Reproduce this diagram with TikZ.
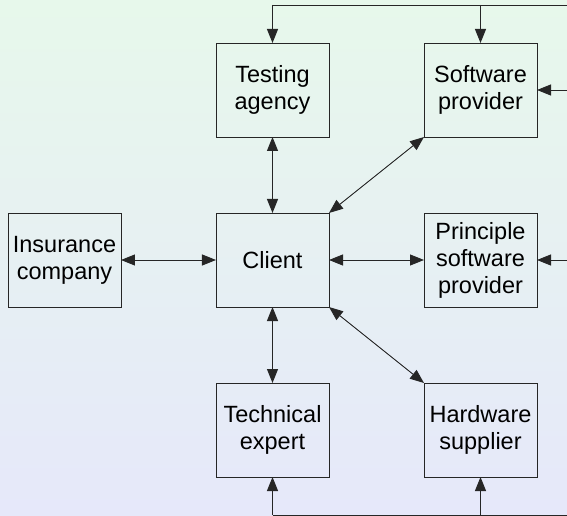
\documentclass[tikz,border=0pt]{standalone}
\usepackage{fontspec}
\setmainfont{Liberation Sans}
\usetikzlibrary{arrows.meta,positioning,calc}

\definecolor{bgtop}{RGB}{231,248,235}
\definecolor{bgbottom}{RGB}{230,232,250}

\begin{document}
\begin{tikzpicture}[x=1pt, y=1pt,
  party/.style={rectangle, draw=black!85, line width=0.9pt, minimum width=113pt, minimum height=94pt, inner sep=0pt, outer sep=0pt, align=center, font=\fontsize{23.5}{27}\selectfont},
  link/.style={draw=black!85, line width=0.9pt, {Triangle[length=14pt,width=11pt]}-{Triangle[length=14pt,width=11pt]}},
  feed/.style={draw=black!85, line width=0.9pt, -{Triangle[length=14pt,width=11pt]}},
  node distance=76pt and 95pt]

  % background
  \shade[top color=bgtop, bottom color=bgbottom] (-272.5,260) rectangle (294.5,-256);
  \useasboundingbox (-272.5,260) rectangle (294.5,-256);

  \node[party] (client) {Client};
  \node[party, above = of client] (testing) {Testing\\agency};
  \node[party, right = of testing] (swprov) {Software\\provider};
  \node[party, left = of client] (insurance) {Insurance\\company};
  \node[party, right = of client] (principle) {Principle\\software\\provider};
  \node[party, below = of client] (expert) {Technical\\expert};
  \node[party, right = of expert] (hardware) {Hardware\\supplier};

  \coordinate (topline) at (0,255);
  \coordinate (botline) at (0,-255);
  \coordinate (edge) at (294.5,0);

  \draw[link] (insurance) -- (client);
  \draw[link] (client) -- (principle);
  \draw[link] (client) -- (testing);
  \draw[link] (client) -- (expert);
  \draw[link] (client.north east) -- (swprov.south west);
  \draw[link] (client.south east) -- (hardware.north west);

  % top bus
  \draw[draw=black!85, line width=0.9pt] (testing.north |- topline) -- (edge |- topline);
  \draw[feed] (testing.north |- topline) -- (testing.north);
  \draw[feed] (swprov.north |- topline) -- (swprov.north);
  % right stubs
  \draw[feed] (edge |- swprov.east) -- (swprov.east);
  \draw[feed] (edge |- principle.east) -- (principle.east);
  % bottom bus
  \draw[draw=black!85, line width=0.9pt] (expert.south |- botline) -- (edge |- botline);
  \draw[feed] (expert.south |- botline) -- (expert.south);
  \draw[feed] (hardware.south |- botline) -- (hardware.south);
\end{tikzpicture}
\end{document}
